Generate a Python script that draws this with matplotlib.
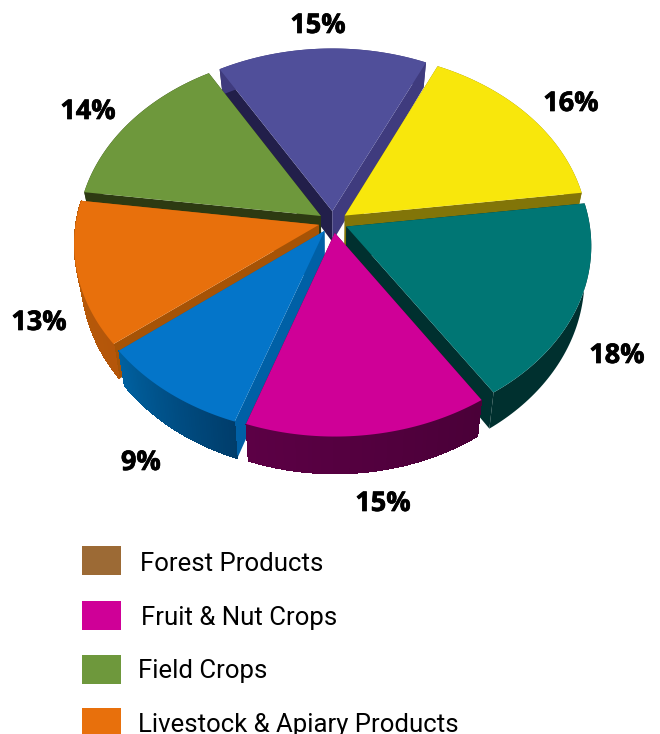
"""
Exploded 3D-look pie chart with legend, saved to out.png
"""

import numpy as np
import matplotlib
matplotlib.use("Agg")
import matplotlib.pyplot as plt
import matplotlib.patheffects as pe
from matplotlib.colors import to_rgb

# data, clockwise starting from the yellow slice (rounded values are what gets printed)
shares = [16.0, 17.8, 14.6, 9.1, 12.7, 14.4, 15.4]
legend_names = ["Forest Products", "Fruit & Nut Crops", "Field Crops", "Livestock & Apiary Products"]

# slice styles
top_colors = ["#f8e70c", "#007674", "#cf0097", "#0475c9", "#e8700c", "#6e983c", "#504f9a"]
# wall on the clockwise end, wall on the counter-clockwise end
end_colors = ["#827508", "#00302f", "#4f003c", "#0060a6", "#a65306", "#2d3a12", "#3f3b7e"]
start_colors = ["#827508", "#00302f", "#4f003c", "#0060a6", "#a65306", "#2d3a12", "#221f4a"]
arc_colors = [("#827508", "#827508"), ("#00302f", "#00302f"), ("#4a0038", "#5c0045"),
              ("#003d6b", "#00609f"), ("#b4560a", "#b85c08"), ("#2d3a12", "#2d3a12"),
              ("#3f3b7e", "#3f3b7e")]
legend_colors = ["#9c6a35", "#cf0097", "#6e983c", "#e8700c"]

# layout, in pixels of the 660x734 image
label_xy = [(571, 104), (617, 356), (383, 504), (141, 463), (39, 323), (88, 112), (318, 26)]
legend_box_y = [546, 601, 655, 708]
legend_text_x = [140, 141, 138, 138]
legend_base_y = [571, 625, 678, 732]

CX, CY = 333, 222
R = 243
EXPLODE = 0.06
START_ANGLE = 25.0
TILT = 0.745
PERSP = 0.10


def project(x, v):
    # plane coordinates (unit radius, v points away from the viewer) to pixels
    s = 1 / (1 + PERSP * v)
    return CX + R * x * s, CY - R * TILT * v * s


def drop(px, py, v):
    # bottom of the wall below a top-face point
    return px - 0.026 * (px - CX), py + 31 - 6 * v


def wall(ax, xs, vs, color, **kw):
    px, py = project(np.asarray(xs), np.asarray(vs))
    bx, by = drop(px, py, np.asarray(vs))
    ax.fill(np.r_[px, bx[::-1]], np.r_[py, by[::-1]], color=color, zorder=1, **kw)


def draw_slice(ax, i, a0, a1):
    mid = np.radians((a0 + a1) / 2)
    ox, ov = EXPLODE * np.sin(mid), EXPLODE * np.cos(mid)
    ang = np.radians(np.linspace(a0, a1, 60))
    xs = ox + np.sin(ang)
    vs = ov + np.cos(ang)

    wall(ax, [ox, xs[0]], [ov, vs[0]], start_colors[i], lw=0)
    wall(ax, [ox, xs[-1]], [ov, vs[-1]], end_colors[i], lw=0)

    # smooth base under the shaded strips keeps the outline clean
    c0, c1 = (np.array(to_rgb(c)) for c in arc_colors[i])
    wall(ax, xs, vs, tuple((c0 + c1) / 2), lw=0)
    if arc_colors[i][0] != arc_colors[i][1]:
        for k in range(len(ang) - 1):
            t = k / (len(ang) - 2)
            wall(ax, xs[k:k + 2], vs[k:k + 2], tuple(c0 + (c1 - c0) * t), lw=0, antialiased=False)

    px, py = project(np.r_[ox, xs], np.r_[ov, vs])
    ax.fill(px, py, color=top_colors[i], lw=0, zorder=1)


fig = plt.figure(figsize=(6.6, 7.34), dpi=100)
ax = fig.add_axes([0, 0, 1, 1])
ax.set_xlim(0, 660)
ax.set_ylim(734, 0)
ax.axis("off")

edges = START_ANGLE + 3.6 * np.r_[0, np.cumsum(shares)]
mids = (edges[:-1] + edges[1:]) / 2
# paint from the back of the pie to the front
for i in np.argsort(-np.cos(np.radians(mids))):
    draw_slice(ax, i, edges[i], edges[i + 1])

for (x, y), v in zip(label_xy, shares):
    ax.text(x, y, f"{v:.0f}%", ha="center", va="center", fontsize=19.5,
            family="Open Sans", weight="bold", color="black",
            path_effects=[pe.withStroke(linewidth=0.5, foreground="black")])

for name, col, by, tx, ty in zip(legend_names, legend_colors, legend_box_y, legend_text_x, legend_base_y):
    ax.fill([82, 121, 121, 82], [by, by, by + 29, by + 29], color=col, lw=0)
    ax.text(tx, ty, name, ha="left", va="baseline", fontsize=18.5,
            family="Roboto", color="black")

fig.savefig("out.png", dpi=100)
